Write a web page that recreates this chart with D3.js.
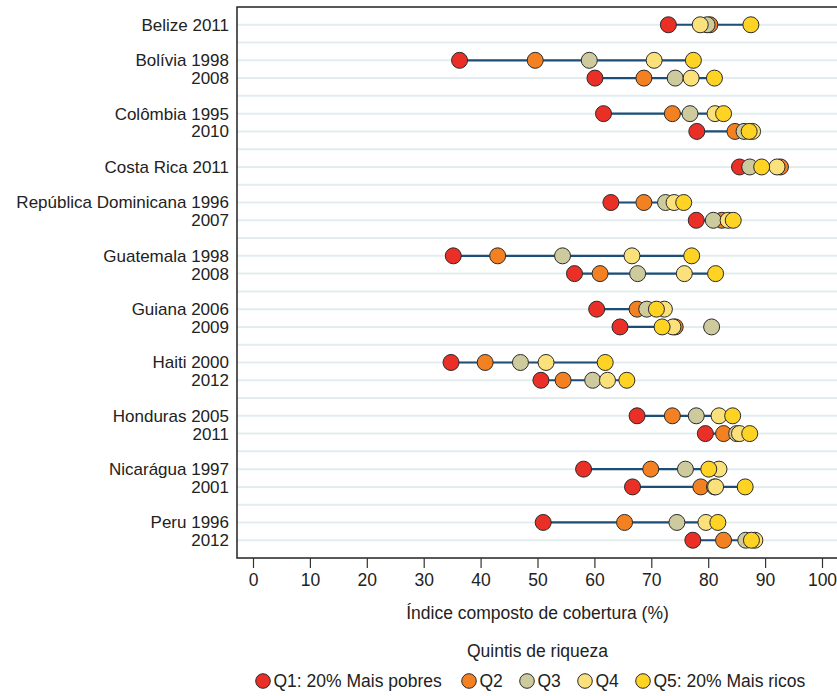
<!DOCTYPE html>
<html>
<head>
<meta charset="utf-8">
<script src="https://cdn.jsdelivr.net/npm/d3@7"></script>
<style>
  body { margin: 0; background: #fff; }
  svg { display: block; font-family: "Liberation Sans", Arial, sans-serif; }
</style>
</head>
<body>
<script>
// Linhas do gráfico (null = espaço entre países)
const rowLabels = ["Belize 2011", null, "Bolívia 1998", "2008", null, "Colômbia 1995", "2010", null,
  "Costa Rica 2011", null, "República Dominicana 1996", "2007", null, "Guatemala 1998", "2008", null,
  "Guiana 2006", "2009", null, "Haiti 2000", "2012", null, "Honduras 2005", "2011", null,
  "Nicarágua 1997", "2001", null, "Peru 1996", "2012"];

// Índice composto de cobertura (%) por quintil de riqueza
const q1 = [73.0, null, 36.3, 60.1, null, 61.6, 78.0, null, 85.5, null, 62.9, 77.9, null, 35.2, 56.5, null,
  60.4, 64.5, null, 34.8, 50.6, null, 67.5, 79.5, null, 58.1, 66.7, null, 51.0, 77.3];
const q2 = [80.3, null, 49.6, 68.7, null, 73.7, 84.7, null, 92.7, null, 68.7, 82.4, null, 43.0, 61.0, null,
  67.5, 74.2, null, 40.8, 54.5, null, 73.7, 82.7, null, 69.9, 78.7, null, 65.3, 82.7];
const q3 = [79.8, null, 59.1, 74.2, null, 76.8, 86.3, null, 87.3, null, 72.5, 80.9, null, 54.4, 67.6, null,
  69.2, 80.6, null, 47.0, 59.7, null, 77.9, 85.0, null, 76.0, 81.1, null, 74.5, 86.6];
const q4 = [78.6, null, 70.5, 77.0, null, 81.2, 87.8, null, 92.1, null, 74.0, 83.5, null, 66.6, 75.8, null,
  72.3, 73.8, null, 51.5, 62.3, null, 81.9, 85.5, null, 81.9, 81.3, null, 79.6, 88.2];
const q5 = [87.5, null, 77.4, 81.1, null, 82.7, 87.2, null, 89.4, null, 75.7, 84.4, null, 77.1, 81.3, null,
  70.9, 71.9, null, 61.9, 65.7, null, 84.3, 87.3, null, 80.1, 86.5, null, 81.7, 87.6];

const quintiles = [q1, q2, q3, q4, q5];
const quintileNames = ["Q1: 20% Mais pobres", "Q2", "Q3", "Q4", "Q5: 20% Mais ricos"];
const quintileColors = ["#ea2f27", "#f38122", "#cdca9d", "#fbe17c", "#fed323"];
const xTicks = [0, 10, 20, 30, 40, 50, 60, 70, 80, 90, 100];

const width = 837, height = 696;
const plot = {left: 237, top: 7, right: 845, bottom: 558};

const svg = d3.select("body").append("svg")
  .attr("width", width).attr("height", height);

const x = d3.scaleLinear().domain([0, 100]).range([253, 822]);
const y = d3.scalePoint().domain(d3.range(rowLabels.length))
  .range([plot.top, plot.bottom]).padding(1);

// Linhas de grade
svg.append("g").selectAll("line").data(d3.range(rowLabels.length)).join("line")
  .attr("x1", plot.left).attr("x2", plot.right)
  .attr("y1", d => y(d)).attr("y2", d => y(d))
  .attr("stroke", "#e3edf0").attr("stroke-width", 2);

// Moldura
svg.append("rect")
  .attr("x", plot.left).attr("y", plot.top)
  .attr("width", plot.right - plot.left).attr("height", plot.bottom - plot.top)
  .attr("fill", "none").attr("stroke", "#222").attr("stroke-width", 1.5);

const rows = d3.range(rowLabels.length).filter(i => rowLabels[i] !== null);

// Rótulos das linhas
svg.append("g").selectAll("text").data(rows).join("text")
  .attr("x", 229).attr("y", i => y(i)).attr("dy", "0.35em")
  .attr("text-anchor", "end").attr("font-size", 17).attr("fill", "#222")
  .text(i => rowLabels[i]);

// Linha Q1 -> Q5
svg.append("g").selectAll("line").data(rows).join("line")
  .attr("x1", i => x(q1[i])).attr("x2", i => x(q5[i]))
  .attr("y1", i => y(i)).attr("y2", i => y(i))
  .attr("stroke", "#1d4e78").attr("stroke-width", 2.2);

// Círculos, um quintil por vez (Q5 por cima)
quintiles.forEach((q, k) => {
  svg.append("g").selectAll("circle").data(rows).join("circle")
    .attr("cx", i => x(q[i])).attr("cy", i => y(i)).attr("r", 8)
    .attr("fill", quintileColors[k]).attr("stroke", "#2a2a2a").attr("stroke-width", 1);
});

// Eixo x
const axis = svg.append("g").attr("transform", `translate(0,${plot.bottom})`)
  .call(d3.axisBottom(x).tickValues(xTicks).tickSize(10).tickPadding(6));
axis.select(".domain").remove();
axis.selectAll("line").attr("stroke", "#333").attr("stroke-width", 1.2);
axis.selectAll("text").attr("font-size", 17.5).attr("fill", "#222")
  .attr("font-family", "Liberation Sans, Arial, sans-serif");

svg.append("text")
  .attr("x", x(50)).attr("y", 613).attr("dy", "0.35em")
  .attr("text-anchor", "middle").attr("font-size", 17.5).attr("fill", "#222")
  .text("Índice composto de cobertura (%)");

// Legenda
svg.append("text")
  .attr("x", x(50)).attr("y", 651).attr("dy", "0.35em")
  .attr("text-anchor", "middle").attr("font-size", 17.5).attr("fill", "#222")
  .text("Quintis de riqueza");

const legendX = [263, 469, 527, 585, 643];
const legend = svg.append("g").selectAll("g").data(quintileNames).join("g")
  .attr("transform", (d, k) => `translate(${legendX[k]},681)`);
legend.append("circle").attr("r", 7.3)
  .attr("fill", (d, k) => quintileColors[k]).attr("stroke", "#2a2a2a").attr("stroke-width", 1);
legend.append("text").attr("x", 10.5).attr("dy", "0.35em")
  .attr("font-size", 17.5).attr("fill", "#222")
  .text(d => d);
</script>
</body>
</html>
